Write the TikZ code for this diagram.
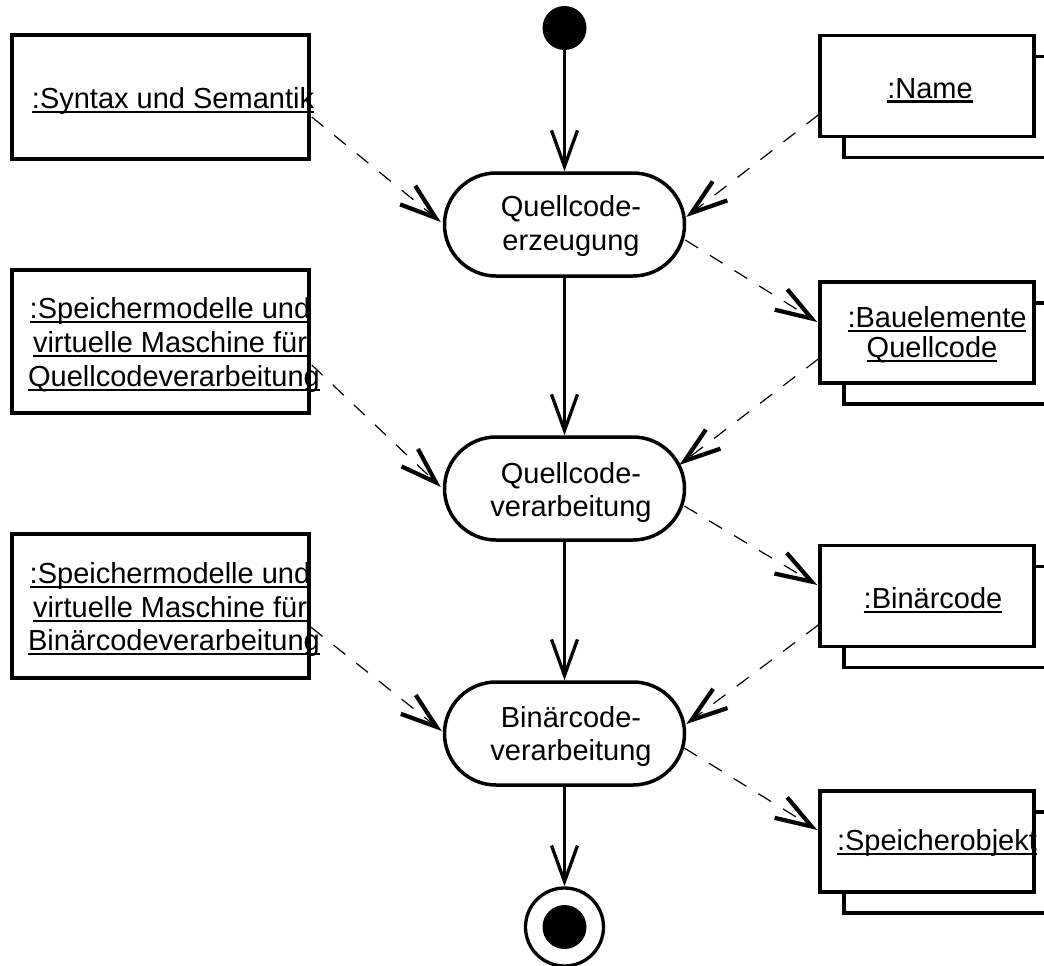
\documentclass[tikz,border=0pt]{standalone}
\usepackage{fontspec}
\setmainfont{Liberation Sans}
\usetikzlibrary{arrows.meta,calc}

% underline that runs through the descenders, as in UML object names
\newcommand\ultext[1]{\setbox0=\hbox{#1}\rlap{\rule[-5.3pt]{\wd0}{2.8pt}}\box0}

\begin{document}
\begin{tikzpicture}[x=1pt,y=-1pt,
  txt/.style={font=\fontsize{29}{33}\selectfont, inner sep=0pt, anchor=base},
  objbox/.style={draw, line width=3.5pt, fill=white, minimum width=297pt, inner sep=0pt},
  multibox/.style={draw, line width=3.5pt, fill=white, minimum width=214pt, minimum height=101pt, inner sep=0pt},
  action/.style={draw, line width=3.5pt, fill=white, rounded corners=51.5pt,
    minimum width=240pt, minimum height=103pt, inner sep=0pt},
  flow/.style={line width=3.3pt, -{Straight Barb[length=36pt,width=26pt,line width=3.3pt]}},
  dep/.style={line width=1.2pt, dash pattern=on 15pt off 14pt,
    -{Straight Barb[length=36pt,width=24pt,line width=4.2pt]}},
]
\fill[white] (0,0) rectangle (1044,966);
\useasboundingbox (0,0) rectangle (1044,966);

% initial and final states
\node[circle, fill, minimum size=44pt, inner sep=0pt] (start) at (564.5,28) {};
\node[circle, draw, line width=3.3pt, minimum size=78pt, inner sep=0pt] (stop) at (564.5,927) {};
\node[circle, fill, minimum size=44pt, inner sep=0pt] (stopdot) at (stop.center) {};

% actions
\node[action] (act1) at (564.5,224.5) {};
\node[txt] (act1-a) at (571,216.5) {Quellcode-};
\node[txt] (act1-b) at (571,250) {erzeugung};

\node[action] (act2) at (564.5,488.5) {};
\node[txt] (act2-a) at (571,483) {Quellcode-};
\node[txt] (act2-b) at (571,516) {verarbeitung};

\node[action] (act3) at (564.5,733.5) {};
\node[txt] (act3-a) at (571,727) {Binärcode-};
\node[txt] (act3-b) at (571,760) {verarbeitung};

% input objects on the left
\node[objbox, minimum height=124pt] (syn) at (160.5,97) {};
\node[txt] (syn-t) at (173,108) {\ultext{:Syntax und Semantik}};

\node[objbox, minimum height=143pt] (spq) at (160.5,341.5) {};
\node[txt] (spq-a) at (170,318) {\ultext{:Speichermodelle und}};
\node[txt] (spq-b) at (170,352) {\ultext{virtuelle Maschine für}};
\node[txt] (spq-c) at (174,386) {\ultext{Quellcodeverarbeitung}};

\node[objbox, minimum height=144pt] (spb) at (160.5,606) {};
\node[txt] (spb-a) at (170,583) {\ultext{:Speichermodelle und}};
\node[txt] (spb-b) at (170,617) {\ultext{virtuelle Maschine für}};
\node[txt] (spb-c) at (174,650) {\ultext{Binärcodeverarbeitung}};

% multi-objects on the right (back copy first, front copy on top)
\node[multibox] (name-bk) at (951,107) {};
\node[multibox] (name) at (927,86) {};
\node[txt] (name-t) at (930,98) {\ultext{:Name}};

\node[multibox] (bau-bk) at (951,353.5) {};
\node[multibox] (bau) at (927,332.5) {};
\node[txt] (bau-a) at (937,327) {\ultext{:Bauelemente}};
\node[txt] (bau-b) at (932,357) {\ultext{Quellcode}};

\node[multibox] (bin-bk) at (951,617) {};
\node[multibox] (bin) at (927,596) {};
\node[txt] (bin-t) at (933,608) {\ultext{:Binärcode}};

\node[multibox] (spo-bk) at (951,862.5) {};
\node[multibox] (spo) at (927,841.5) {};
\node[txt] (spo-t) at (937,850) {\ultext{:Speicherobjekt}};

% control flow
\draw[flow] (start.south) -- (act1.north);
\draw[flow] (act1.south) -- (act2.north);
\draw[flow] (act2.south) -- (act3.north);
\draw[flow] (act3.south) -- (stop.north);

% object flow / dependencies
\draw[dep] ($(syn.east)+(1,20)$) -- ($(act1.west)+(-2,-2.5)$);
\draw[dep] ($(name.west)+(0,29)$) -- ($(act1.east)+(0,-7.5)$);
\draw[dep] ($(act1.east)+(-1,15.5)$) -- ($(bau.west)+(-1,-10.5)$);
\draw[dep] ($(bau.west)+(0,26.5)$) -- ($(act2.east)+(-7,-23.5)$);
\draw[dep] ($(spq.east)+(1,23.5)$) -- ($(act2.west)+(-2,-1.5)$);
\draw[dep] ($(act2.east)+(-2,17.5)$) -- ($(bin.west)+(-1,-11)$);
\draw[dep] ($(bin.west)+(0,29)$) -- ($(act3.east)+(0,-9.5)$);
\draw[dep] ($(spb.east)+(0,21)$) -- ($(act3.west)+(-1,-2.5)$);
\draw[dep] ($(act3.east)+(-2,14.5)$) -- ($(spo.west)+(-1,-11.5)$);
\end{tikzpicture}
\end{document}
